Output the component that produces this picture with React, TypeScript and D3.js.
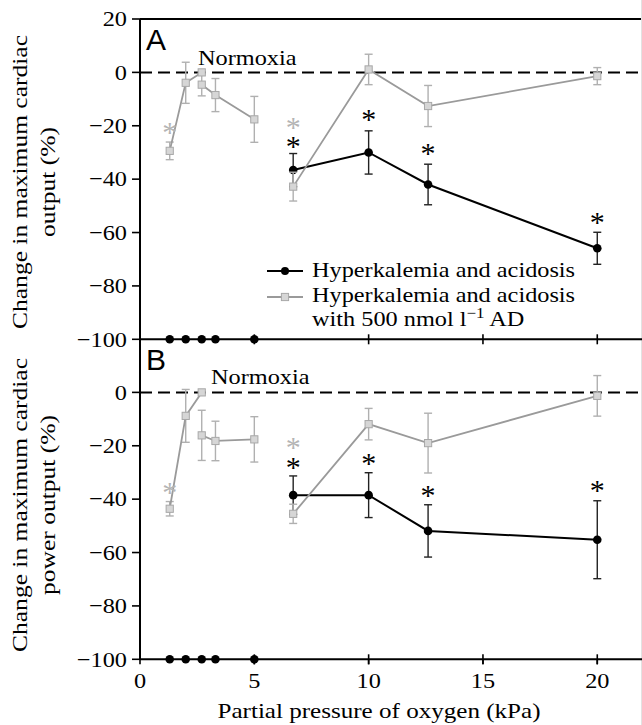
import React from "react";
import * as d3 from "d3";

// ---------- data ----------
const X_TICKS = [0, 5, 10, 15, 20];
const Y_TICKS_A = [20, 0, -20, -40, -60, -80, -100];
const Y_TICKS_B = [0, -20, -40, -60, -80, -100];

// Points where the hyperkalemia/acidosis hearts failed (plotted at -100)
const FAIL_X = [1.3, 2.0, 2.7, 3.3, 5.0];

// Panel A: maximum cardiac output
const A_AD_SEG1_X = [1.3, 2.0, 2.7];
const A_AD_SEG1_V = [-29.4, -3.9, 0];
const A_AD_SEG1_E = [3.3, 7.7, 0];
const A_AD_SEG2_X = [2.7, 3.3, 5.0];
const A_AD_SEG2_V = [-4.6, -8.5, -17.6];
const A_AD_SEG2_E = [4.2, 6.2, 8.6];
const A_AD_SEG3_X = [6.7, 10, 12.6, 20];
const A_AD_SEG3_V = [-42.8, 1.1, -12.6, -1.4];
const A_AD_SEG3_E = [5.4, 5.7, 7.7, 3.2];
const A_HA_X = [6.7, 10, 12.6, 20];
const A_HA_V = [-36.6, -30, -42, -65.9];
const A_HA_E = [6.2, 8.1, 7.6, 6.0];
const A_STAR_AD_X = [1.3, 6.7];
const A_STAR_AD_V = [-20.9, -19.1];
const A_STAR_HA_X = [6.7, 10, 12.6, 20];
const A_STAR_HA_V = [-26.0, -16.0, -28.8, -54.7];

// Panel B: maximum cardiac power output
const B_AD_SEG1_X = [1.3, 2.0, 2.7];
const B_AD_SEG1_V = [-43.6, -8.8, 0];
const B_AD_SEG1_E = [2.7, 9.9, 0];
const B_AD_SEG2_X = [2.7, 3.3, 5.0];
const B_AD_SEG2_V = [-16.1, -18.2, -17.6];
const B_AD_SEG2_E = [9.4, 7.4, 8.5];
const B_AD_SEG3_X = [6.7, 10, 12.6, 20];
const B_AD_SEG3_V = [-45.5, -11.9, -19, -1.3];
const B_AD_SEG3_E = [3.6, 5.9, 11.2, 7.6];
const B_HA_X = [6.7, 10, 12.6, 20];
const B_HA_V = [-38.5, -38.5, -51.9, -55.2];
const B_HA_E = [7.2, 8.4, 9.8, 14.6];
const B_STAR_AD_X = [1.3, 6.7];
const B_STAR_AD_V = [-35.9, -18.8];
const B_STAR_HA_X = [6.7, 10, 12.6, 20];
const B_STAR_HA_V = [-26.6, -25.0, -36.8, -35.1];

const LEGEND_1 = "Hyperkalemia and acidosis";
const LEGEND_2 = "Hyperkalemia and acidosis";
const LEGEND_3A = "with 500 nmol l";
const LEGEND_3SUP = "\u22121";
const LEGEND_3B = " AD";

// ---------- styling ----------
const W = 642;
const H = 725;
const SERIF = '"Liberation Serif", Tinos, "Times New Roman", Times, serif';
const SANS = '"Liberation Sans", Arimo, Arial, sans-serif';
const GRAY_LINE = "#9a9a9a";
const GRAY_ERR = "#b0b0b0";
const GRAY_FILL = "#d6d6d6";
const GRAY_STROKE = "#a8a8a8";
const GRAY_STAR = "#b4b4b4";

const x = d3.scaleLinear().domain([0, 22]).range([140, 643]);
const yA = d3.scaleLinear().domain([-100, 20]).range([339.3, 19]);
const yB = d3.scaleLinear().domain([-100, 20]).range([659.3, 339]);

const fmt = (v: number) => (v < 0 ? "\u2212" + Math.abs(v) : String(v));

function Txt(props: any) {
  const { x: tx, y: ty, size = 21.5, sx = 1.13, rot = 0, anchor = "start", fill = "#000", family = SERIF, children } = props;
  return (
    <text
      transform={`translate(${tx},${ty}) rotate(${rot}) scale(${sx},1)`}
      textAnchor={anchor}
      fill={fill}
      style={{ fontFamily: family, fontSize: size + "px" }}
    >
      {children}
    </text>
  );
}

function ErrBars({ xs, vs, es, y, color, width }: any) {
  return (
    <g stroke={color} strokeWidth={width} fill="none">
      {xs.map((xv: number, i: number) =>
        es[i] > 0 ? (
          <g key={i}>
            <line x1={x(xv)} x2={x(xv)} y1={y(vs[i] + es[i])} y2={y(vs[i] - es[i])} />
            <line x1={x(xv) - 4} x2={x(xv) + 4} y1={y(vs[i] + es[i])} y2={y(vs[i] + es[i])} />
            <line x1={x(xv) - 4} x2={x(xv) + 4} y1={y(vs[i] - es[i])} y2={y(vs[i] - es[i])} />
          </g>
        ) : null
      )}
    </g>
  );
}

function Series({ xs, vs, y, kind }: any) {
  const pts: [number, number][] = xs.map((xv: number, i: number) => [x(xv), y(vs[i])]);
  const path = d3.line()(pts) || "";
  if (kind === "black") {
    return (
      <g>
        <path d={path} stroke="#000" strokeWidth={2} fill="none" />
        {pts.map((p, i) => (
          <circle key={i} cx={p[0]} cy={p[1]} r={4.3} fill="#000" />
        ))}
      </g>
    );
  }
  return (
    <g>
      <path d={path} stroke={GRAY_LINE} strokeWidth={1.8} fill="none" />
      {pts.map((p, i) => (
        <rect key={i} x={p[0] - 3.6} y={p[1] - 3.6} width={7.2} height={7.2} fill={GRAY_FILL} stroke={GRAY_STROKE} strokeWidth={1} />
      ))}
    </g>
  );
}

function Stars({ xs, vs, y, color }: any) {
  return (
    <g>
      {xs.map((xv: number, i: number) => (
        <text key={i} x={x(xv)} y={y(vs[i]) + 14} textAnchor="middle" fill={color} style={{ fontFamily: SERIF, fontSize: "30px" }}>
          *
        </text>
      ))}
    </g>
  );
}

function Panel(props: any) {
  const { y, ticks, label, normX, normY, segs, ha, starsAd, starsHa } = props;
  const [y0, y1] = y.range();
  return (
    <g>
      <line x1={x(0)} x2={W} y1={y(0)} y2={y(0)} stroke="#000" strokeWidth={2} strokeDasharray="12,6" />
      <line x1={x(0)} x2={x(0)} y1={y0} y2={y1} stroke="#000" strokeWidth={2} />
      {ticks.map((t: number) => (
        <g key={t}>
          <line x1={x(0) - 8} x2={x(0)} y1={y(t)} y2={y(t)} stroke="#000" strokeWidth={1.6} />
          <Txt x={127} y={y(t) + 7.3} anchor="end">
            {fmt(t)}
          </Txt>
        </g>
      ))}
      <line x1={x(0)} x2={W} y1={y(-100)} y2={y(-100)} stroke="#000" strokeWidth={2} />
      {X_TICKS.filter((t) => t > 0).map((t) => (
        <line key={t} x1={x(t)} x2={x(t)} y1={y(-100) - 5} y2={y(-100) + 5} stroke="#000" strokeWidth={1.6} />
      ))}
      <ErrBars xs={ha.x} vs={ha.v} es={ha.e} y={y} color="#222" width={1.4} />
      <Series xs={ha.x} vs={ha.v} y={y} kind="black" />
      {segs.map((s: any, i: number) => (
        <ErrBars key={i} xs={s.x} vs={s.v} es={s.e} y={y} color={GRAY_ERR} width={1.4} />
      ))}
      {segs.map((s: any, i: number) => (
        <Series key={i} xs={s.x} vs={s.v} y={y} kind="gray" />
      ))}
      {FAIL_X.map((xv, i) => (
        <circle key={i} cx={x(xv)} cy={y(-100)} r={4.3} fill="#000" />
      ))}
      <Stars xs={starsAd.x} vs={starsAd.v} y={y} color={GRAY_STAR} />
      <Stars xs={starsHa.x} vs={starsHa.v} y={y} color="#000" />
      <Txt x={146} y={y(20) + 31} size={30} sx={1} family={SANS}>
        {label}
      </Txt>
      <Txt x={normX} y={normY}>
        Normoxia
      </Txt>
    </g>
  );
}

export default function App() {
  return (
    <svg width={W} height={H} style={{ position: "absolute", left: 0, top: 0, background: "#fff" }}>
      <rect x={0} y={0} width={W} height={H} fill="#fff" />
      <line x1={x(0)} x2={W} y1={yA(20)} y2={yA(20)} stroke="#000" strokeWidth={2} />
      <line x1={641.5} x2={641.5} y1={0} y2={H} stroke="#e2e2e2" strokeWidth={1} />

      <Panel
        y={yA}
        ticks={Y_TICKS_A}
        label="A"
        normX={198}
        normY={65}
        segs={[
          { x: A_AD_SEG1_X, v: A_AD_SEG1_V, e: A_AD_SEG1_E },
          { x: A_AD_SEG2_X, v: A_AD_SEG2_V, e: A_AD_SEG2_E },
          { x: A_AD_SEG3_X, v: A_AD_SEG3_V, e: A_AD_SEG3_E },
        ]}
        ha={{ x: A_HA_X, v: A_HA_V, e: A_HA_E }}
        starsAd={{ x: A_STAR_AD_X, v: A_STAR_AD_V }}
        starsHa={{ x: A_STAR_HA_X, v: A_STAR_HA_V }}
      />
      <Panel
        y={yB}
        ticks={Y_TICKS_B}
        label="B"
        normX={211}
        normY={384}
        segs={[
          { x: B_AD_SEG1_X, v: B_AD_SEG1_V, e: B_AD_SEG1_E },
          { x: B_AD_SEG2_X, v: B_AD_SEG2_V, e: B_AD_SEG2_E },
          { x: B_AD_SEG3_X, v: B_AD_SEG3_V, e: B_AD_SEG3_E },
        ]}
        ha={{ x: B_HA_X, v: B_HA_V, e: B_HA_E }}
        starsAd={{ x: B_STAR_AD_X, v: B_STAR_AD_V }}
        starsHa={{ x: B_STAR_HA_X, v: B_STAR_HA_V }}
      />

      {X_TICKS.map((t) => (
        <g key={t}>
          <line x1={x(t)} x2={x(t)} y1={yB(-100)} y2={yB(-100) + 5} stroke="#000" strokeWidth={1.6} />
          <Txt x={x(t)} y={688} anchor="middle">
            {String(t)}
          </Txt>
        </g>
      ))}
      <Txt x={379} y={718} anchor="middle" size={22} sx={1.14}>
        Partial pressure of oxygen (kPa)
      </Txt>

      <Txt x={27} y={182} rot={-90} anchor="middle" size={22} sx={1.16}>
        Change in maximum cardiac
      </Txt>
      <Txt x={55} y={182} rot={-90} anchor="middle" size={22} sx={1.16}>
        output (%)
      </Txt>
      <Txt x={27} y={505} rot={-90} anchor="middle" size={22} sx={1.16}>
        Change in maximum cardiac
      </Txt>
      <Txt x={55} y={505} rot={-90} anchor="middle" size={22} sx={1.16}>
        power output (%)
      </Txt>

      <g>
        <line x1={267} x2={303} y1={271} y2={271} stroke="#000" strokeWidth={2} />
        <circle cx={285} cy={271} r={4} fill="#000" />
        <line x1={267} x2={303} y1={297} y2={297} stroke={GRAY_LINE} strokeWidth={1.8} />
        <rect x={285 - 3.6} y={297 - 3.6} width={7.2} height={7.2} fill={GRAY_FILL} stroke={GRAY_STROKE} strokeWidth={1} />
        <Txt x={312} y={277}>{LEGEND_1}</Txt>
        <Txt x={312} y={302}>{LEGEND_2}</Txt>
        <Txt x={312} y={326}>
          {LEGEND_3A}
          <tspan style={{ fontSize: "15px" }} dy={-8}>{LEGEND_3SUP}</tspan>
          <tspan dy={8}>{LEGEND_3B}</tspan>
        </Txt>
      </g>
    </svg>
  );
}
